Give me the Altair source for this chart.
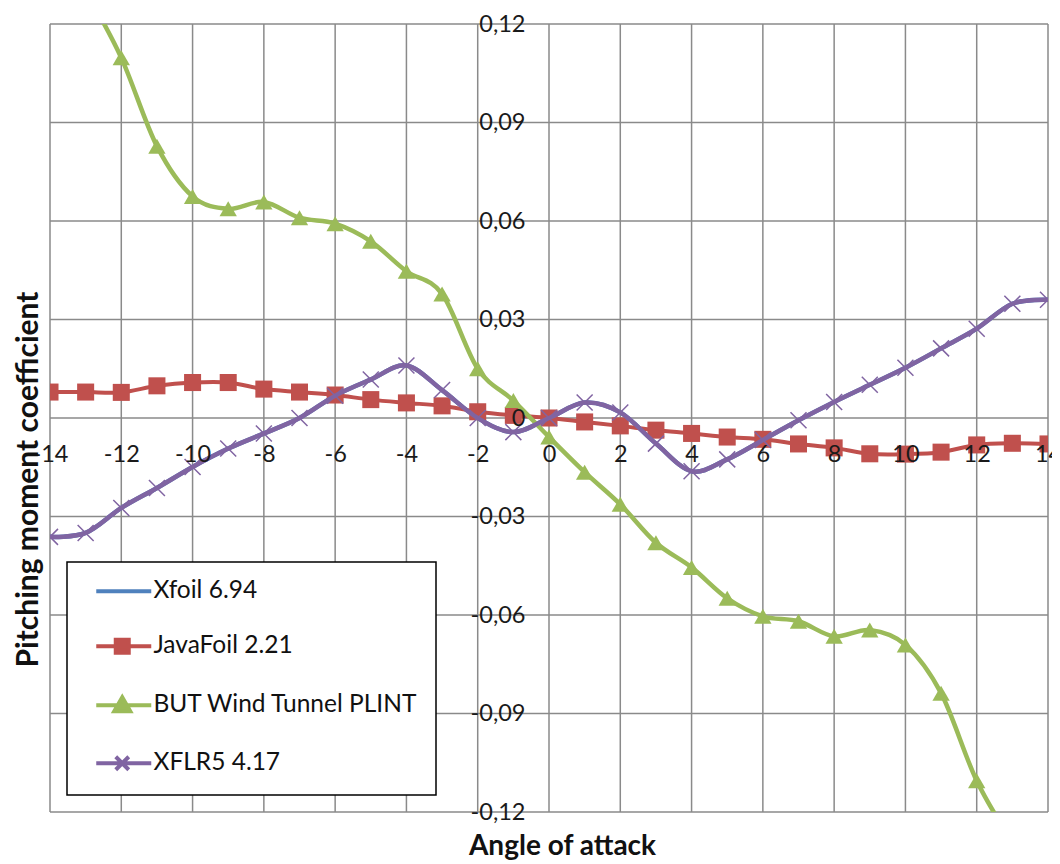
import altair as alt
import pandas as pd

# ---------------- data ----------------
angles = list(range(-14, 15))
xfoil_cm = [-0.0362, -0.0350, -0.0274, -0.0213, -0.0149, -0.0093, -0.0047, 0.0000,
            0.0068, 0.0117, 0.0160, 0.0085, 0.0000, -0.0043, 0.0000, 0.0047,
            0.0017, -0.0078, -0.0162, -0.0126, -0.0067, -0.0007, 0.0049, 0.0101,
            0.0153, 0.0212, 0.0272, 0.0348, 0.0360]
javafoil_cm = [0.0079, 0.0079, 0.0078, 0.0098, 0.0108, 0.0108, 0.0088, 0.0079,
               0.0070, 0.0056, 0.0046, 0.0037, 0.0019, 0.0008, 0.0000, -0.0012,
               -0.0024, -0.0037, -0.0047, -0.0058, -0.0065, -0.0079, -0.0091, -0.0109,
               -0.0110, -0.0104, -0.0082, -0.0077, -0.0079]
but_angles = list(range(-13, 14))
but_cm = [0.130, 0.1097, 0.0828, 0.0675, 0.0637, 0.0658, 0.0610, 0.0592, 0.0538,
          0.0447, 0.0378, 0.0150, 0.0053, -0.0058, -0.0165, -0.0263, -0.0380,
          -0.0455, -0.0549, -0.0604, -0.0619, -0.0665, -0.0646, -0.0691, -0.0838,
          -0.1105, -0.129]
xflr5_cm = [-0.0362, -0.0350, -0.0274, -0.0213, -0.0149, -0.0093, -0.0047, 0.0000,
            0.0068, 0.0117, 0.0160, 0.0085, 0.0000, -0.0043, 0.0000, 0.0047,
            0.0017, -0.0078, -0.0162, -0.0126, -0.0067, -0.0007, 0.0049, 0.0101,
            0.0153, 0.0212, 0.0272, 0.0348, 0.0360]

series_names = ["Xfoil 6.94", "JavaFoil 2.21", "BUT Wind Tunnel PLINT", "XFLR5 4.17"]
series_colors = ["#4F81BD", "#C0504D", "#9BBB59", "#8064A2"]
x_ticks = list(range(-14, 15, 2))
y_ticks = [-0.12, -0.09, -0.06, -0.03, 0, 0.03, 0.06, 0.09, 0.12]

# ---------------- layout / style ----------------
W, H = 998, 788
FONT = "Lato"
GRID = "#8a8a8a"

# legend symbols: line + marker (unit = sqrt(symbolSize)/2 px)
legend_paths = [
    "M0.0,0L5.5,0",
    "M0.0,0L5.5,0M1.95,-0.65L3.25,-0.65L3.25,0.65L1.95,0.65Z",
    "M0.0,0L5.5,0M2.6,-0.8L3.4,0.6L1.8,0.6Z",
    "M0.0,0L5.5,0M1.95,-0.65L3.25,0.65M1.95,0.65L3.25,-0.65",
]

rows = []
for a, v in zip(angles, xfoil_cm):
    rows.append({"series": series_names[0], "angle": a, "cm": v})
for a, v in zip(angles, javafoil_cm):
    rows.append({"series": series_names[1], "angle": a, "cm": v})
for a, v in zip(but_angles, but_cm):
    rows.append({"series": series_names[2], "angle": a, "cm": v})
for a, v in zip(angles, xflr5_cm):
    rows.append({"series": series_names[3], "angle": a, "cm": v})
df = pd.DataFrame(rows)

xs = alt.Scale(domain=[-14, 14], nice=False, zero=False)
ys = alt.Scale(domain=[-0.12, 0.12], nice=False, zero=False)

x_enc = alt.X(
    "angle:Q", scale=xs, title="Angle of attack",
    axis=alt.Axis(
        values=x_ticks, grid=False, domain=False, ticks=False,
        offset=-H / 2, labelPadding=24, labelFlush=False, labelOverlap=False,
        labelExpr="(datum.value < 0 ? '-' : '') + format(abs(datum.value), 'd')",
        labelFont=FONT, labelFontSize=23.5, labelColor="#1a1a1a",
        titleFont=FONT, titleFontSize=28, titleFontWeight="bold", titleColor="#111",
        titleX=512, titleY=428, titleAlign="center", titleBaseline="middle",
        zindex=1,
    ),
)
y_enc = alt.Y(
    "cm:Q", scale=ys, title="Pitching moment coefficient",
    axis=alt.Axis(
        values=y_ticks, grid=False, domain=False, ticks=False,
        offset=-W / 2, labelPadding=24, labelFlush=False, labelOverlap=False,
        labelExpr="datum.value == 0 ? '0' : (datum.value < 0 ? '-' : '') + replace(format(abs(datum.value), '.2f'), '.', ',')",
        labelFont=FONT, labelFontSize=23.5, labelColor="#1a1a1a",
        titleFont=FONT, titleFontSize=30, titleFontWeight="bold", titleColor="#111",
        titleX=-W / 2 - 22, titleY=455, titleAngle=270, titleAlign="center",
        titleBaseline="middle", zindex=1,
    ),
)

grid_x = alt.Chart(pd.DataFrame({"angle": x_ticks})).mark_rule(
    color=GRID, strokeWidth=1.5).encode(x=x_enc)
grid_y = alt.Chart(pd.DataFrame({"cm": y_ticks})).mark_rule(
    color=GRID, strokeWidth=1.5).encode(y=y_enc)

layers = [grid_x, grid_y]

# Xfoil (line only, lies under XFLR5)
s0 = df[df.series == series_names[0]]
layers.append(alt.Chart(s0).mark_line(color=series_colors[0], strokeWidth=4.5,
                                      interpolate="cardinal", clip=True).encode(x=x_enc, y=y_enc))
# JavaFoil
s1 = df[df.series == series_names[1]]
layers.append(alt.Chart(s1).mark_line(color=series_colors[1], strokeWidth=4,
                                      interpolate="cardinal", clip=True).encode(x=x_enc, y=y_enc))
layers.append(alt.Chart(s1).mark_point(shape="square", filled=True, color=series_colors[1],
                                       size=290, opacity=1, clip=True).encode(x=x_enc, y=y_enc))
# BUT wind tunnel
s2 = df[df.series == series_names[2]]
layers.append(alt.Chart(s2).mark_line(color=series_colors[2], strokeWidth=4.5,
                                      interpolate="cardinal", clip=True).encode(x=x_enc, y=y_enc))
layers.append(alt.Chart(s2).mark_point(shape="triangle-up", filled=True, color=series_colors[2],
                                       size=300, opacity=1, clip=True).encode(x=x_enc, y=y_enc))
# XFLR5
s3 = df[df.series == series_names[3]]
layers.append(alt.Chart(s3).mark_line(color=series_colors[3], strokeWidth=4.5,
                                      interpolate="cardinal", clip=True).encode(x=x_enc, y=y_enc))
layers.append(alt.Chart(s3).mark_point(shape="M-1,-1L1,1M-1,1L1,-1", filled=False,
                                       color=series_colors[3], strokeWidth=1.5, size=256,
                                       opacity=1, clip=True).encode(x=x_enc, y=y_enc))

leg = alt.Legend(
    title=None, orient="none", legendX=17, legendY=538, padding=17,
    strokeColor="#000", fillColor="#fff",
    labelFont=FONT, labelFontSize=24.5, labelColor="#111", labelLimit=600,
    labelOffset=45, symbolSize=400, symbolStrokeWidth=4, rowPadding=28,
)
legend_layer = alt.Chart(df).transform_filter("false").mark_point(
    filled=True, opacity=1, strokeWidth=4).encode(
    x=x_enc, y=y_enc,
    fill=alt.Fill("series:N", scale=alt.Scale(domain=series_names, range=series_colors), legend=leg),
    stroke=alt.Stroke("series:N", scale=alt.Scale(domain=series_names, range=series_colors), legend=leg),
    shape=alt.Shape("series:N", scale=alt.Scale(domain=series_names, range=legend_paths), legend=leg),
)
layers.append(legend_layer)

chart = alt.layer(*layers).properties(
    width=W, height=H,
    autosize=alt.AutoSizeParams(type="none"),
    padding={"left": 42, "top": 16, "right": 4, "bottom": 56},
).configure_view(stroke=None).configure_legend(strokeWidth=1.5, cornerRadius=0)

chart.save("out.html", embed_options={"renderer": "svg", "actions": False})
